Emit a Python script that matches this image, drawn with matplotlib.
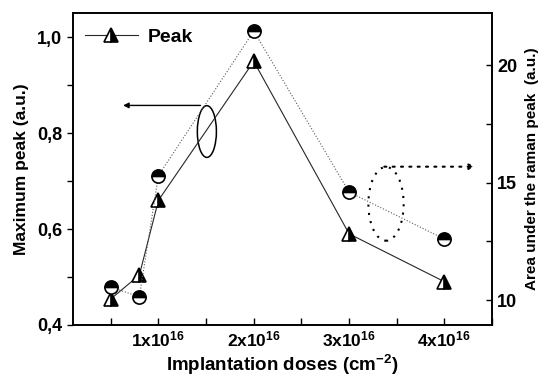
import matplotlib
matplotlib.use("Agg")
import matplotlib.pyplot as plt
from matplotlib.patches import Ellipse
from matplotlib.ticker import FuncFormatter, MultipleLocator

plt.rcParams['font.family'] = ['Liberation Sans', 'DejaVu Sans']
plt.rcParams['font.weight'] = 'bold'
plt.rcParams['axes.labelweight'] = 'bold'
plt.rcParams['mathtext.fontset'] = 'custom'
plt.rcParams['mathtext.rm'] = 'Liberation Sans:bold'
plt.rcParams['mathtext.bf'] = 'Liberation Sans:bold'

#%% data
doses = [0.5e16, 0.8e16, 1.0e16, 2.0e16, 3.0e16, 4.0e16]
peak = [0.454, 0.504, 0.660, 0.950, 0.590, 0.490]
area = [10.55, 10.15, 15.3, 21.45, 14.6, 12.6]

xticks = [1e16, 2e16, 3e16, 4e16]
xticklabels = [r'$\mathbf{1x10^{16}}$', r'$\mathbf{2x10^{16}}$',
               r'$\mathbf{3x10^{16}}$', r'$\mathbf{4x10^{16}}$']

#%% figure
fig = plt.figure(figsize=(5.42, 3.84), dpi=100)
ax1 = fig.add_axes([0.134, 0.154, 0.774, 0.811])
ax2 = ax1.twinx()

ax1.plot(doses, peak, color='0.15', lw=0.8, marker='^', ms=10,
         fillstyle='right', markerfacecolor='black', markerfacecoloralt='white',
         markeredgecolor='black', markeredgewidth=1.2, label='Peak')
ax2.plot(doses, area, color='0.35', lw=0.8, ls=':', marker='o', ms=9.5,
         fillstyle='top', markerfacecolor='black', markerfacecoloralt='white',
         markeredgecolor='black', markeredgewidth=1.2)

ax1.set_xlim(0.1e16, 4.5e16)
ax1.set_ylim(0.4, 1.05)
ax2.set_ylim(8.95, 22.2)

ax1.set_xticks(xticks)
ax1.set_xticklabels(xticklabels, fontsize=12.5)
ax1.xaxis.set_minor_locator(MultipleLocator(0.5e16))
ax1.set_yticks([0.4, 0.6, 0.8, 1.0])
ax1.yaxis.set_minor_locator(MultipleLocator(0.1))
ax1.yaxis.set_major_formatter(FuncFormatter(lambda v, p: ('%.1f' % v).replace('.', ',')))
ax2.set_yticks([10, 15, 20])
ax2.yaxis.set_minor_locator(MultipleLocator(2.5))

ax1.tick_params(axis='y', which='both', direction='out', length=4, width=1, labelsize=13)
ax1.tick_params(axis='x', which='both', direction='in', length=5, width=1, labelsize=12.5)
ax2.tick_params(axis='y', which='both', direction='in', length=4, width=1, labelsize=13)
for ax in (ax1, ax2):
    for s in ax.spines.values():
        s.set_linewidth(1.2)

ax1.set_xlabel(r'Implantation doses (cm$^{\mathbf{-2}}$)', fontsize=13.5,
               fontweight='bold', labelpad=2)
ax1.set_ylabel('Maximum peak (a.u.)', fontsize=12.5, fontweight='bold', labelpad=6)
ax2.set_ylabel('Area under the raman peak  (a.u.)', fontsize=11,
               fontweight='bold', labelpad=6)

leg = ax1.legend(loc='center left', bbox_to_anchor=(0.03, 0.923), frameon=False,
                 borderpad=0, borderaxespad=0, handlelength=2.7, handletextpad=0.5,
                 prop={'weight': 'bold', 'size': 14})

# annotations: ellipses with arrows pointing to the axes
ax1.add_patch(Ellipse((1.508e16, 0.8035), 0.2e16, 0.108, fill=False,
                      edgecolor='black', lw=1.1))
ax1.annotate('', xy=(0.6e16, 0.858), xytext=(1.47e16, 0.858),
             arrowprops=dict(arrowstyle='-|>', color='black', lw=1.0,
                             mutation_scale=8))
ax2.add_patch(Ellipse((3.387e16, 14.1), 0.37e16, 3.14, fill=False,
                      edgecolor='black', lw=1.5, ls=(0, (1, 3))))
ax2.annotate('', xy=(4.35e16, 15.68), xytext=(3.34e16, 15.68),
             arrowprops=dict(arrowstyle='-|>', color='black', lw=1.5,
                             ls=(0, (1, 3)), mutation_scale=8))

fig.savefig('out.png', dpi=100)
